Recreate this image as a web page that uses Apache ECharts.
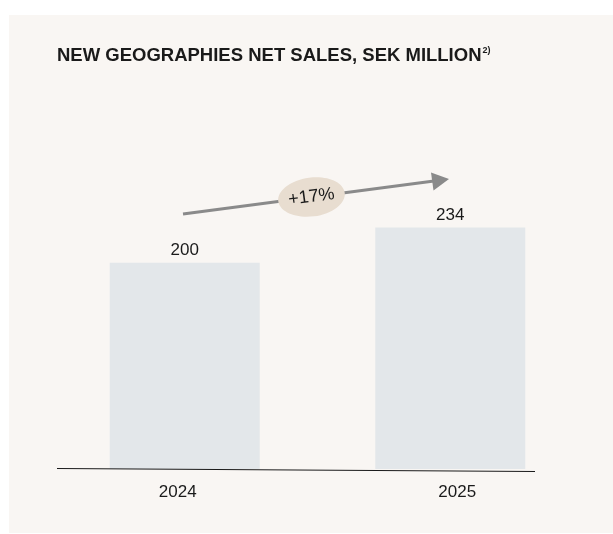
<!DOCTYPE html>
<html>
<head>
<meta charset="utf-8">
<style>
  html, body { margin: 0; padding: 0; background: #ffffff; }
  #chart { width: 613px; height: 534px; }
</style>
<script src="https://cdn.jsdelivr.net/npm/echarts@6/dist/echarts.min.js"></script>
</head>
<body>
<div id="chart"></div>
<script>
// Net sales in new geographies, SEK million
const years = ['2024', '2025'];
const netSales = [200, 234];
const yTicks = [0, 300];

const growthPct = Math.round((netSales[1] / netSales[0] - 1) * 100);

const chart = echarts.init(document.getElementById('chart'), null, { renderer: 'canvas' });

const font = '"Liberation Sans", Arial, Helvetica, sans-serif';

chart.setOption({
  backgroundColor: '#ffffff',
  animation: false,
  textStyle: { fontFamily: font },
  graphic: [
    // beige panel
    { type: 'rect', z: -10, silent: true,
      shape: { x: 9, y: 15, width: 604, height: 518 },
      style: { fill: '#f9f6f3' } },
    // title with footnote marker
    { type: 'text', left: 57, top: 46,
      style: { text: '{t|NEW GEOGRAPHIES NET SALES, SEK MILLION}{s|2)}',
        rich: {
          t: { fontFamily: font, fontSize: 18.5, fontWeight: 'bold', fill: '#1a1a1a' },
          s: { fontFamily: font, fontSize: 9, fontWeight: 'bold', fill: '#1a1a1a', verticalAlign: 'top', padding: [0, 0, 9, 1] }
        } } },
    // baseline
    { type: 'line', z: 5, silent: true,
      shape: { x1: 57, y1: 468.5, x2: 535, y2: 471.5 },
      style: { stroke: '#1a1a1a', lineWidth: 1 } },
    // growth arrow
    { type: 'line', z: 5, silent: true,
      shape: { x1: 183, y1: 214, x2: 434, y2: 181 },
      style: { stroke: '#8a8a8a', lineWidth: 3 } },
    { type: 'polygon', z: 5, silent: true,
      shape: { points: [[449, 179], [431, 172.5], [433.5, 190.5]] },
      style: { fill: '#8a8a8a' } },
    // growth badge
    { type: 'ellipse', z: 6, silent: true,
      shape: { cx: 0, cy: 0, rx: 33.5, ry: 19.5 },
      x: 311.5, y: 197, rotation: 0.13,
      style: { fill: '#e8ddd0' } },
    { type: 'text', z: 7, silent: true,
      x: 311.5, y: 197, rotation: 0.13,
      style: { text: '+' + growthPct + '%', fontFamily: font, fontSize: 18,
        fill: '#1a1a1a', align: 'center', verticalAlign: 'middle' } }
  ],
  grid: { left: 52, right: 30, top: 159.5, bottom: 65 },
  xAxis: {
    type: 'category',
    data: years,
    axisLine: { show: false },
    axisTick: { show: false },
    axisLabel: {
      margin: 15,
      fontFamily: font,
      fontSize: 17,
      color: '#1a1a1a',
      formatter: (v, i) => i === 0 ? '{a|' + v + '}' : '{b|' + v + '}',
      rich: {
        a: { fontFamily: font, fontSize: 17, color: '#1a1a1a', padding: [0, 14, 0, 0] },
        b: { fontFamily: font, fontSize: 17, color: '#1a1a1a', padding: [0, 0, 0, 14] }
      }
    }
  },
  yAxis: {
    type: 'value',
    min: yTicks[0],
    max: yTicks[1],
    show: false,
    splitLine: { show: false }
  },
  series: [{
    type: 'bar',
    data: netSales,
    barWidth: 150,
    itemStyle: { color: '#e3e7ea' },
    label: {
      show: true,
      position: 'top',
      distance: 4,
      fontFamily: font,
      fontSize: 17,
      color: '#1a1a1a'
    }
  }]
});
</script>
</body>
</html>
